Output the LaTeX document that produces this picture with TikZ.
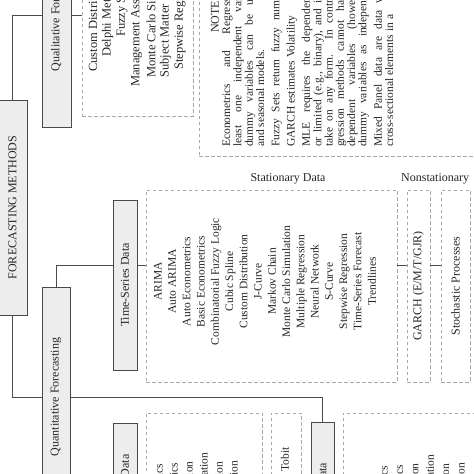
\documentclass[tikz,border=0pt]{standalone}
\usepackage{fontspec}
\setmainfont{Liberation Serif}
\usepackage{graphicx}
\definecolor{boxfill}{HTML}{EDEDED}
\definecolor{boxline}{HTML}{4A4A4A}
\definecolor{dashline}{HTML}{A8A8A8}
\definecolor{inktext}{HTML}{262626}
\newcommand{\nfull}[1]{\makebox[152pt][s]{#1}}
\newcommand{\notefont}{\fontsize{11.5}{11.3}\selectfont\lineskiplimit=-20pt\relax}
\begin{document}
\begin{tikzpicture}[x=1pt,y=1pt,
    solidbox/.style={draw=boxline,fill=boxfill,line width=0.9pt,inner sep=0pt,text=inktext,font=\fontsize{12}{14}\selectfont},
    listbox/.style={draw=dashline,line width=0.7pt,dash pattern=on 3.5pt off 2.5pt,inner sep=0pt,text=inktext,font=\fontsize{12}{14}\selectfont},
    link/.style={draw=boxline,line width=0.9pt},
    listtext/.style={rotate=90,align=center,inner sep=0pt,text=inktext,font=\fontsize{11.5}{14.27}\selectfont},
    qtext/.style={rotate=90,anchor=west,inner sep=0pt,text=inktext,font=\fontsize{12.5}{14}\selectfont},
    headtext/.style={inner sep=0pt,text=inktext,font=\fontsize{12}{14}\selectfont}]
  \useasboundingbox (0,0) rectangle (474,474);
  \clip (0,0) rectangle (474,474);

  % root and the two branches
  \node[solidbox,minimum width=29pt,minimum height=215pt] (fm) at (12.5,266.5) {\rotatebox{90}{FORECASTING METHODS}};
  \node[solidbox,minimum width=29pt,minimum height=224pt] (qual) at (56.5,459) {\rotatebox{90}{Qualitative Forecasting}};
  \node[solidbox,minimum width=28pt,minimum height=220pt] (quant) at (56,77) {\rotatebox{90}{Quantitative Forecasting}};
  \draw[link] (fm.north) |- (qual.west);
  \draw[link] (fm.south) |- (quant.west);

  % qualitative methods
  \node[listbox,minimum width=111pt,minimum height=202pt] (qlist) at (137.5,459) {};
  \draw[link] (qual.east) -- (qlist.west);
  \node[qtext] (q1) at (93,402) {Custom Distri};
  \node[qtext] (q2) at (107.5,417) {Delphi Met};
  \node[qtext] (q3) at (122,437) {Fuzzy Se};
  \node[qtext] (q4) at (136.5,387) {Management Ass};
  \node[qtext] (q5) at (151,396) {Monte Carlo Si};
  \node[qtext] (q6) at (165.5,396) {Subject Matter};
  \node[qtext] (q7) at (180,404) {Stepwise Regr};

  % notes
  \node[listbox,minimum width=321pt,minimum height=242pt] (notes) at (359.5,439) {};
  \node[headtext,rotate=90,anchor=west] (notehead) at (215,441) {NOTE};
  \node[rotate=90,anchor=north west,align=left,inner sep=0pt,text=inktext,font=\notefont] (notebody) at (222,327) {
    \nfull{Econometrics and Regressi}\\
    \nfull{least one independent vari}\\
    \nfull{dummy variables can be us}\\
    and seasonal models.\\[4pt]
    \nfull{Fuzzy Sets return fuzzy numb}\\[4pt]
    GARCH estimates Volatility\\[4pt]
    \nfull{MLE requires the dependent}\\
    \nfull{or limited (e.g., binary), and in}\\
    \nfull{take on any form. In contra}\\
    \nfull{gression methods cannot hav}\\
    \nfull{dependent variables (howev}\\
    \nfull{dummy variables as independ}\\[4pt]
    \nfull{Mixed Panel data are data w}\\
    cross-sectional elements in a
  };

  % time-series data
  \coordinate (tsrow) at (0,209);
  \node[solidbox,minimum width=24pt,minimum height=170pt] (ts) at (125,189) {\rotatebox{90}{Time-Series Data}};
  \draw[link] (quant.north) |- (ts.west |- tsrow);
  \node[listbox,minimum width=251pt,minimum height=192pt] (stat) at (271.5,188) {};
  \node[listtext] (statlist) at (265,192.5) {ARIMA\\Auto ARIMA\\Auto Econometrics\\Basic Econometrics\\Combinatorial Fuzzy Logic\\Cubic Spline\\Custom Distribution\\J-Curve\\Markov Chain\\Monte Carlo Simulation\\Multiple Regression\\Neural Network\\S-Curve\\Stepwise Regression\\Time-Series Forecast\\Trendlines};
  \draw[link] (ts.east |- tsrow) -- (stat.west |- tsrow);
  \node[headtext,anchor=base] (statlbl) at (288,292) {Stationary Data};
  \node[listbox,minimum width=23pt,minimum height=192pt] (garch) at (418.5,188) {\rotatebox{90}{GARCH (E/M/T/GJR)}};
  \node[listbox,minimum width=29pt,minimum height=192pt] (stoch) at (455.5,188) {\rotatebox{90}{Stochastic Processes}};
  \draw[link] (stat.east |- tsrow) -- (garch.west |- tsrow);
  \draw[link] (garch.east |- tsrow) -- (stoch.west |- tsrow);
  \node[headtext,anchor=base west] (nonstatlbl) at (401,292) {Nonstationary};

  % cross-sectional and panel data
  \node[solidbox,minimum width=24pt,minimum height=86pt] (csdata) at (125,8) {\rotatebox{90}{Data}};
  \node[listbox,minimum width=116pt,minimum height=187pt] (cslist) at (204,-32.5) {};
  \node[listtext,font=\fontsize{11.5}{15}\selectfont] (cstext) at (197.5,-34.5) {Auto Econometrics\\Basic Econometrics\\Custom Distribution\\Monte Carlo Simulation\\Multiple Regression\\Stepwise Regression};
  \node[listbox,minimum width=30pt,minimum height=187pt] (tobitbox) at (286,-32.5) {};
  \node[listtext,anchor=east] (tobit) at (285,27) {Tobit};
  \node[solidbox,minimum width=23pt,minimum height=103pt] (pdata) at (322.5,-0.3) {\rotatebox{90}{Data}};
  \draw[link] (quant.east) -| (pdata.north);
  \node[listbox,minimum width=177pt,minimum height=187pt] (pdlist) at (431.5,-32.5) {};
  \node[listtext,font=\fontsize{11.5}{15.4}\selectfont] (pdtext) at (423.5,-36.5) {Auto Econometrics\\Basic Econometrics\\Custom Distribution\\Monte Carlo Simulation\\Multiple Regression\\Stepwise Regression};
\end{tikzpicture}
\end{document}
